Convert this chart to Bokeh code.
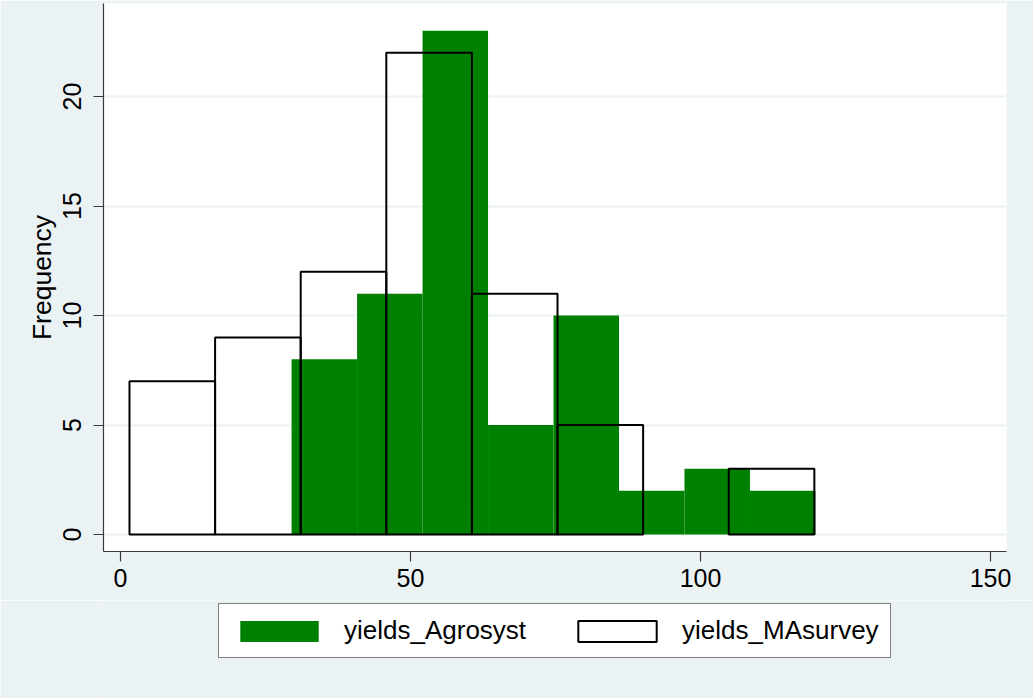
from bokeh.plotting import figure
from bokeh.layouts import column
from bokeh.models import Range1d, FixedTicker, Legend, LegendItem
from bokeh.embed import file_html
from bokeh.resources import INLINE

# ---- data ----
agro_label = "yields_Agrosyst"
agro_start = 29.5
agro_bin_width = 11.29
agro_counts = [8, 11, 23, 5, 10, 2, 3, 2]

survey_label = "yields_MAsurvey"
survey_start = 1.55
survey_bin_width = 14.76
survey_counts = [7, 9, 12, 22, 11, 5, 0, 3]

x_ticks = [0, 50, 100, 150]
y_ticks = [0, 5, 10, 15, 20]
y_axis_title = "Frequency"

# ---- derived bin edges ----
def bins(start, width, counts):
    left, right, top = [], [], []
    for i, c in enumerate(counts):
        if c > 0:
            left.append(start + i * width)
            right.append(start + (i + 1) * width)
            top.append(c)
    return left, right, top

a_l, a_r, a_t = bins(agro_start, agro_bin_width, agro_counts)
s_l, s_r, s_t = bins(survey_start, survey_bin_width, survey_counts)

FONT = "Liberation Sans"
BG = "#EAF2F3"
AGRO_STYLE = dict(fill_color="#008000", line_color=None)
SURVEY_STYLE = dict(fill_alpha=0, line_color="black", line_width=2)

# ---- main histogram ----
p = figure(frame_width=903, frame_height=548, output_backend="svg",
           toolbar_location=None,
           x_range=Range1d(-2.93, 152.76), y_range=Range1d(-0.776, 24.25),
           min_border_left=103, min_border_right=27, min_border_top=3,
           min_border_bottom=49)

p.border_fill_color = BG
p.background_fill_color = "white"
p.outline_line_color = None

p.quad(left=a_l, right=a_r, bottom=0, top=a_t, **AGRO_STYLE)
p.quad(left=s_l, right=s_r, bottom=0, top=s_t, **SURVEY_STYLE)

for ax in (p.xaxis[0], p.yaxis[0]):
    ax.axis_line_color = "#3a3a3a"
    ax.axis_line_width = 1.2
    ax.major_tick_line_color = "#3a3a3a"
    ax.major_tick_line_width = 1.2
    ax.major_tick_out = 10
    ax.major_tick_in = 0
    ax.minor_tick_line_color = None
    ax.major_label_text_font = FONT
    ax.major_label_text_font_size = "25px"
    ax.major_label_text_color = "black"

p.xaxis.ticker = FixedTicker(ticks=x_ticks)
p.yaxis.ticker = FixedTicker(ticks=y_ticks)
p.xaxis.major_label_standoff = 7
p.yaxis.major_label_standoff = 12
p.yaxis.major_label_orientation = "vertical"
p.yaxis.axis_label = y_axis_title
p.yaxis.axis_label_text_font = FONT
p.yaxis.axis_label_text_font_size = "26.5px"
p.yaxis.axis_label_text_font_style = "normal"
p.yaxis.axis_label_text_color = "black"
p.yaxis.axis_label_standoff = 4

p.xgrid.grid_line_color = None
p.ygrid.ticker = FixedTicker(ticks=y_ticks)
p.ygrid.grid_line_color = BG
p.ygrid.grid_line_width = 2

# ---- legend strip below the plot (same bars, drawn outside its visible range) ----
lg = figure(width=1033, height=98, output_backend="svg", toolbar_location=None,
            x_range=Range1d(0, 1), y_range=Range1d(0, 1),
            x_axis_type=None, y_axis_type=None, min_border=0)
lg.border_fill_color = BG
lg.background_fill_color = BG
lg.outline_line_color = None
lg.grid.visible = False

r_agro = lg.quad(left=a_l, right=a_r, bottom=0, top=a_t, **AGRO_STYLE)
r_survey = lg.quad(left=s_l, right=s_r, bottom=0, top=s_t, **SURVEY_STYLE)

legend = Legend(items=[LegendItem(label=agro_label, renderers=[r_agro]),
                       LegendItem(label=survey_label, renderers=[r_survey])],
                orientation="horizontal", location=(115, 40),
                glyph_width=98, glyph_height=26, label_standoff=16, spacing=42,
                padding=11, margin=0, label_height=24,
                label_text_font=FONT, label_text_font_size="26px",
                label_text_color="black",
                border_line_color="black", border_line_width=1,
                background_fill_color="white", background_fill_alpha=1)
lg.add_layout(legend, "center")

layout = column(p, lg, spacing=0)

open("out.html", "w").write(file_html(layout, INLINE))
